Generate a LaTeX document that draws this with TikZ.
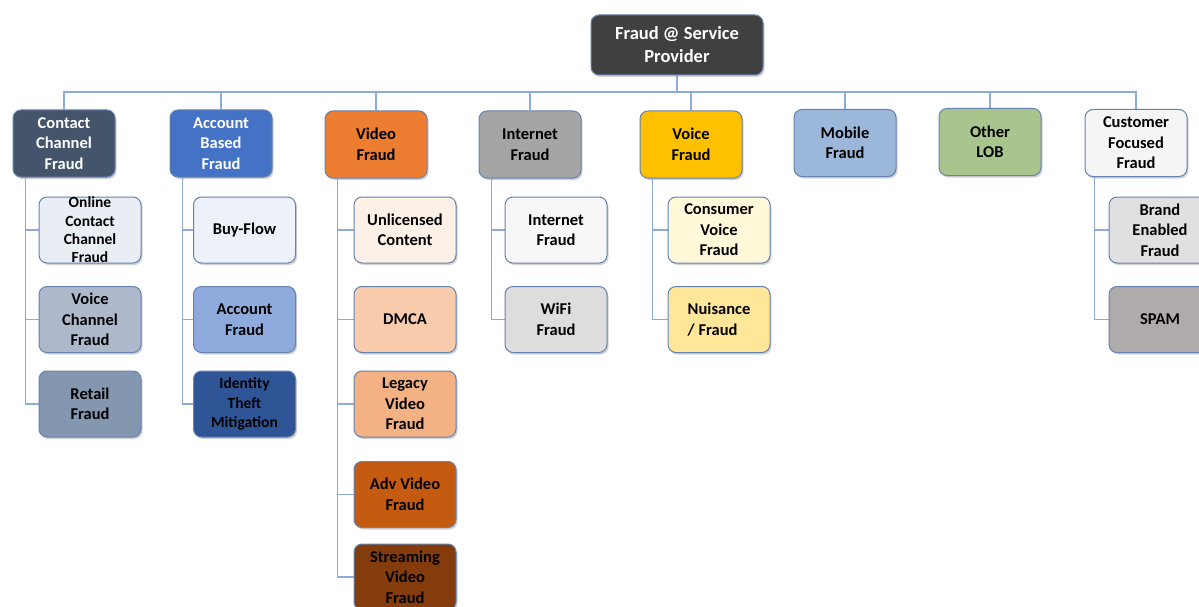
\documentclass[tikz,border=0pt]{standalone}
\usepackage{fontspec}
\setmainfont{Carlito}
\usetikzlibrary{shadows}
\pgfdeclarelayer{background}
\pgfsetlayers{background,main}
\definecolor{bordc}{HTML}{6682B0}
\definecolor{linec}{HTML}{8EA9DB}
\definecolor{cRoot}{HTML}{404040}
\definecolor{cContact}{HTML}{44546A}
\definecolor{cAccount}{HTML}{4472C4}
\definecolor{cVideo}{HTML}{ED7D31}
\definecolor{cInternet}{HTML}{A5A5A5}
\definecolor{cVoice}{HTML}{FFC000}
\definecolor{cMobile}{HTML}{9BB7D9}
\definecolor{cOther}{HTML}{A9C58E}
\definecolor{cCustomer}{HTML}{F5F5F5}
\definecolor{cOnline}{HTML}{E9EDF4}
\definecolor{cVoiceCh}{HTML}{ADB9CA}
\definecolor{cRetail}{HTML}{8497B0}
\definecolor{cBuy}{HTML}{EDF2FA}
\definecolor{cAccF}{HTML}{8FAADC}
\definecolor{cIdent}{HTML}{2F5597}
\definecolor{cUnlic}{HTML}{FDF0E6}
\definecolor{cDMCA}{HTML}{F8CBAD}
\definecolor{cLegacy}{HTML}{F4B183}
\definecolor{cAdv}{HTML}{C55A11}
\definecolor{cStream}{HTML}{843C0C}
\definecolor{cIntF}{HTML}{F7F7F7}
\definecolor{cWiFi}{HTML}{DDDDDD}
\definecolor{cConsumer}{HTML}{FFF9DA}
\definecolor{cNuis}{HTML}{FFE699}
\definecolor{cBrand}{HTML}{E0E0E0}
\definecolor{cSpam}{HTML}{AFABAB}
\begin{document}
\begin{tikzpicture}[x=1pt,y=-1pt,
  box/.style={draw=bordc, line width=1pt, rounded corners=8pt,
    minimum width=102pt, minimum height=66pt, inner sep=0pt, align=center,
    font=\fontsize{16.5}{20.5}\selectfont\bfseries, text=black,
    drop shadow={shadow xshift=1.5pt, shadow yshift=-2pt, opacity=0.35}},
  topbox/.style={box, minimum height=67pt},
  conn/.style={draw=linec, line width=1.3pt}]
\useasboundingbox (0,0) rectangle (1199,607);

% root
\node[box, fill=cRoot, text=white, minimum width=172pt, minimum height=60pt,
  font=\fontsize{18.5}{23}\selectfont\bfseries] (root) at (677,45) {Fraud @ Service\\Provider};
\coordinate (bus) at (677,92);

% top level
\node[topbox, fill=cContact, text=white] (cc) at (64,143.5) {Contact\\Channel\\Fraud};
\node[topbox, fill=cAccount, text=white] (ab) at (221,143.5) {Account\\Based\\Fraud};
\node[topbox, fill=cVideo] (vf) at (376,144.5) {Video\\Fraud};
\node[topbox, fill=cInternet] (inf) at (530,144.5) {Internet\\Fraud};
\node[topbox, fill=cVoice] (vo) at (691,144.5) {Voice\\Fraud};
\node[topbox, fill=cMobile] (mo) at (845,143) {Mobile\\Fraud};
\node[topbox, fill=cOther] (ot) at (990,142) {Other\\LOB};
\node[topbox, fill=cCustomer] (cf) at (1136,143) {Customer\\Focused\\Fraud};

% children: contact
\node[box, fill=cOnline, font=\fontsize{15.5}{18.3}\selectfont\bfseries] (c1) at (90,230) {Online\\Contact\\Channel\\Fraud};
\node[box, fill=cVoiceCh] (c2) at (90,319.5) {Voice\\Channel\\Fraud};
\node[box, fill=cRetail] (c3) at (90,404) {Retail\\Fraud};
% account
\node[box, fill=cBuy] (a1) at (244.5,230) {Buy-Flow};
\node[box, fill=cAccF] (a2) at (244.5,319.5) {Account\\Fraud};
\node[box, fill=cIdent, font=\fontsize{15.5}{19.5}\selectfont\bfseries] (a3) at (244.5,404) {Identity\\Theft\\Mitigation};
% video
\node[box, fill=cUnlic] (v1) at (405,230) {Unlicensed\\Content};
\node[box, fill=cDMCA] (v2) at (405,319.5) {DMCA};
\node[box, fill=cLegacy] (v3) at (405,404) {Legacy\\Video\\Fraud};
\node[box, fill=cAdv] (v4) at (405,494.5) {Adv Video\\Fraud};
\node[box, fill=cStream] (v5) at (405,577) {Streaming\\Video\\Fraud};
% internet
\node[box, fill=cIntF] (i1) at (556,230) {Internet\\Fraud};
\node[box, fill=cWiFi] (i2) at (556,319.5) {WiFi\\Fraud};
% voice
\node[box, fill=cConsumer] (o1) at (719,230) {Consumer\\Voice\\Fraud};
\node[box, fill=cNuis, align=left] (o2) at (719,319.5) {Nuisance\\/ Fraud};
% customer
\node[box, fill=cBrand] (u1) at (1160,230) {Brand\\Enabled\\Fraud};
\node[box, fill=cSpam] (u2) at (1160,319.5) {SPAM};

% connectors
\begin{pgfonlayer}{background}
\fill[white] (0,0) rectangle (1199,607);
\draw[conn] (root.south) -- (bus);
\foreach \n in {cc,ab,vf,inf,vo,mo,ot,cf} \draw[conn] (\n.north) |- (bus);
\foreach \c in {c1,c2,c3} \draw[conn] ([xshift=13pt]cc.south west) |- (\c.west);
\foreach \c in {a1,a2,a3} \draw[conn] ([xshift=13pt]ab.south west) |- (\c.west);
\foreach \c in {v1,v2,v3,v4,v5} \draw[conn] ([xshift=13pt]vf.south west) |- (\c.west);
\foreach \c in {i1,i2} \draw[conn] ([xshift=13pt]inf.south west) |- (\c.west);
\foreach \c in {o1,o2} \draw[conn] ([xshift=13pt]vo.south west) |- (\c.west);
\foreach \c in {u1,u2} \draw[conn] ([xshift=10pt]cf.south west) |- (\c.west);
\end{pgfonlayer}
\end{tikzpicture}
\end{document}
